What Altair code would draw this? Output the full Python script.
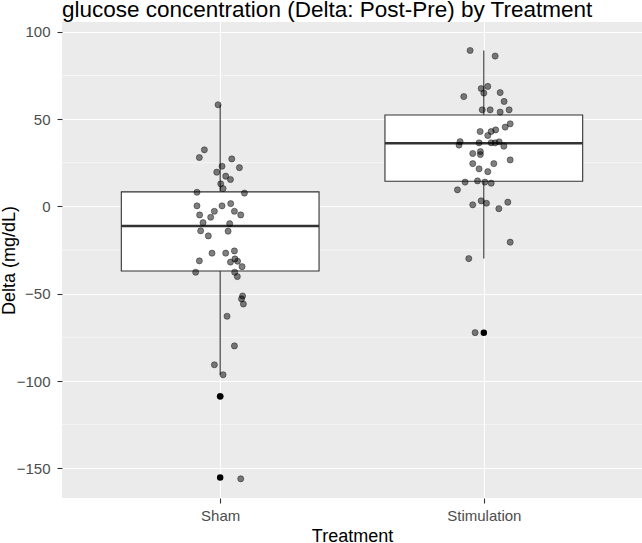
import altair as alt
import pandas as pd

# ---- data -------------------------------------------------------------
treatments = ["Sham", "Stimulation"]
chart_title = "glucose concentration (Delta: Post-Pre) by Treatment"

# Delta values (mg/dL) and horizontal jitter (in category units) per subject
sham_delta = [58.2, 32.4, 28.0, 27.2, 22.2, 23.0, 19.6, 17.3, 15.4, 12.9, 10.2, 8.1, 7.6,
              0.3, 0.3, 1.6, -4.9, -2.8, -6.2, -2.8, -4.9, -9.3, -9.9, -14.0, -14.2, -16.9,
              -26.8, -26.8, -25.5, -31.2, -31.9, -30.1, -31.4, -34.5, -37.7, -37.7, -40.2,
              -51.3, -53.0, -55.9, -62.9, -79.9, -90.7, -96.4, -108.8, -156.0]
sham_jitter = [-0.008, -0.060, -0.079, 0.044, 0.073, 0.007, -0.013, 0.021, 0.039, 0.002, 0.011, -0.088, 0.092,
               -0.088, 0.007, 0.040, -0.078, -0.022, -0.036, 0.054, 0.078, -0.065, 0.036, -0.074, 0.030, -0.045,
               -0.031, 0.021, 0.054, -0.079, 0.039, 0.056, 0.066, 0.083, -0.093, 0.055, 0.065,
               0.085, 0.081, 0.088, 0.026, 0.054, -0.022, 0.011, 0.000, 0.078]

stim_delta = [89.3, 86.1, 67.5, 68.7, 64.9, 62.9, 65.2, 60.1, 55.3, 55.3, 54.0, 55.3, 47.3,
              45.4, 42.9, 42.9, 43.8, 40.6, 37.1, 35.1, 36.4, 36.4, 36.4, 37.0, 34.5, 30.3,
              31.4, 29.7, 24.5, 24.5, 26.6, 21.5, 19.9, 13.9, 14.6, 13.9, 13.3, 9.5, 0.9,
              3.2, 1.8, -1.3, 2.4, -20.5, -29.9, -72.3]
stim_jitter = [-0.052, 0.043, -0.010, 0.015, 0.000, -0.076, 0.062, 0.077, -0.006, 0.024, 0.062, 0.096, 0.100,
               0.081, -0.014, 0.028, 0.045, 0.015, -0.090, -0.094, -0.018, 0.028, 0.043, 0.058, 0.076, -0.042,
               -0.013, -0.013, -0.042, 0.038, 0.100, -0.018, 0.015, -0.071, -0.024, 0.004, 0.028, -0.100, -0.042,
               -0.010, 0.010, 0.057, 0.091, 0.100, -0.057, -0.033]

# boxplot summary per treatment (position 1 = Sham, 2 = Stimulation)
box_pos = [1, 2]
box_q1 = [-37.0, 14.4]
box_median = [-11.2, 36.2]
box_q3 = [8.3, 52.3]
box_lower = [-96.4, -29.9]
box_upper = [58.2, 89.3]
box_width = 0.75

outlier_pos = [1, 1, 2]
outlier_delta = [-108.8, -155.2, -72.3]

y_major = [100, 50, 0, -50, -100, -150]
y_minor = [75, 25, -25, -75, -125]

# ---- tables -----------------------------------------------------------
points = pd.DataFrame({
    "treatment": [treatments[0]] * len(sham_delta) + [treatments[1]] * len(stim_delta),
    "xpos": [1 + j for j in sham_jitter] + [2 + j for j in stim_jitter],
    "delta": sham_delta + stim_delta,
})
boxes = pd.DataFrame({
    "pos": box_pos,
    "left": [p - box_width / 2 for p in box_pos],
    "right": [p + box_width / 2 for p in box_pos],
    "q1": box_q1, "median": box_median, "q3": box_q3,
    "lower": box_lower, "upper": box_upper,
})
outliers = pd.DataFrame({"pos": outlier_pos, "delta": outlier_delta})
minor = pd.DataFrame({"v": y_minor})
title_df = pd.DataFrame({"label": [chart_title]})

FONT = "Liberation Sans"
PLOT_W, PLOT_H = 580, 476
xscale = alt.Scale(domain=[0.4, 2.6], nice=False, zero=False)
yscale = alt.Scale(domain=[-167.0, 105.6], nice=False, zero=False)

label_expr = "[" + ",".join(f"'{t}'" for t in treatments) + "][datum.value - 1]"

x_axis = alt.Axis(values=[1, 2], labelExpr=label_expr, title="Treatment",
                  grid=True, gridColor="white", gridWidth=1.1,
                  domain=False, ticks=True, tickColor="#333333", tickSize=5, tickWidth=1.1,
                  labelColor="#4D4D4D", labelFontSize=15, labelFont=FONT, labelPadding=5,
                  titleFont=FONT, titleFontSize=18, titleFontWeight="normal",
                  titleColor="black", titlePadding=4)
y_axis = alt.Axis(values=y_major, title="Delta (mg/dL)",
                  grid=True, gridColor="white", gridWidth=1.1,
                  domain=False, ticks=True, tickColor="#333333", tickSize=5, tickWidth=1.1,
                  labelColor="#4D4D4D", labelFontSize=15, labelFont=FONT, labelPadding=7,
                  titleFont=FONT, titleFontSize=18, titleFontWeight="normal",
                  titleColor="black", titleX=-44, titleY=PLOT_H / 2)

minor_grid = alt.Chart(minor).mark_rule(color="white", strokeWidth=0.55).encode(
    y=alt.Y("v:Q", scale=yscale, axis=y_axis),
    x=alt.value(0), x2=alt.value(PLOT_W),
)

whisker_hi = alt.Chart(boxes).mark_rule(color="#333333", strokeWidth=1.1).encode(
    x=alt.X("pos:Q", scale=xscale, axis=x_axis),
    y=alt.Y("q3:Q", scale=yscale), y2="upper:Q",
)
whisker_lo = alt.Chart(boxes).mark_rule(color="#333333", strokeWidth=1.1).encode(
    x=alt.X("pos:Q", scale=xscale),
    y=alt.Y("q1:Q", scale=yscale), y2="lower:Q",
)
box = alt.Chart(boxes).mark_rect(fill="white", stroke="#333333", strokeWidth=1.1).encode(
    x=alt.X("left:Q", scale=xscale), x2="right:Q",
    y=alt.Y("q1:Q", scale=yscale), y2="q3:Q",
)
median_line = alt.Chart(boxes).mark_rule(color="#333333", strokeWidth=2.4).encode(
    x=alt.X("left:Q", scale=xscale), x2="right:Q",
    y=alt.Y("median:Q", scale=yscale),
)
outlier_pts = alt.Chart(outliers).mark_circle(color="black", opacity=1, size=42).encode(
    x=alt.X("pos:Q", scale=xscale),
    y=alt.Y("delta:Q", scale=yscale),
)
jitter_pts = alt.Chart(points).mark_point(
    filled=True, fill="black", fillOpacity=0.5, stroke="black", strokeOpacity=0.55,
    strokeWidth=0.7, size=38, shape="circle",
).encode(
    x=alt.X("xpos:Q", scale=xscale),
    y=alt.Y("delta:Q", scale=yscale),
)

# plot title, left-aligned with the panel, sitting just above it
title_text = alt.Chart(title_df).mark_text(
    align="left", baseline="alphabetic", font=FONT, fontSize=22.5, color="black",
).encode(
    text="label:N", x=alt.value(0), y=alt.value(-5),
)

chart = alt.layer(
    minor_grid, whisker_hi, whisker_lo, box, median_line, outlier_pts, jitter_pts, title_text
).properties(
    width=PLOT_W, height=PLOT_H,
    padding={"left": 62, "top": 22, "right": 0, "bottom": 45},
    autosize="none",
).configure_view(fill="#EBEBEB", strokeWidth=0)

chart.save("out.html", embed_options={"renderer": "svg", "actions": False})
